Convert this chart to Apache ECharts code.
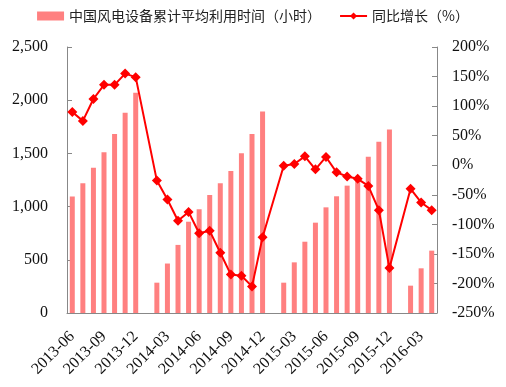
<!DOCTYPE html>
<html><head><meta charset="utf-8">
<script src="https://cdn.jsdelivr.net/npm/echarts@6/dist/echarts.min.js"></script>
<style>html,body{margin:0;padding:0;background:#fff}#c{width:506px;height:387px}</style>
</head><body><div id="c"></div>
<script>
var categories = ['2013-06','2013-07','2013-08','2013-09','2013-10','2013-11','2013-12',
 '2014-01','2014-02','2014-03','2014-04','2014-05','2014-06','2014-07','2014-08','2014-09','2014-10','2014-11','2014-12',
 '2015-01','2015-02','2015-03','2015-04','2015-05','2015-06','2015-07','2015-08','2015-09','2015-10','2015-11','2015-12',
 '2016-01','2016-02','2016-03','2016-04'];
var hours = [1095,1220,1366,1510,1682,1883,2071,
 null,285,465,640,858,975,1109,1219,1335,1501,1682,1893,
 null,285,476,670,849,993,1097,1197,1255,1469,1610,1724,
 null,257,420,586];
var yoy = [90,75,112,136,136,155,149,
 null,-26,-58,-94,-79,-115,-111,-148,-185,-187,-205,-122,
 null,-1,2,15,-7,14,-12,-19,-23,-35,-76,-174,
 null,-40,-63,-76];
var leftTicks = {min:0, max:2500, interval:500};
var rightTicks = {min:-250, max:200, interval:50};
var seriesNames = ['中国风电设备累计平均利用时间（小时）','同比增长（%）'];

var serif = '"Liberation Serif","Times New Roman",serif';
var cjk = '"Noto Sans CJK SC",sans-serif';
var chart = echarts.init(document.getElementById('c'), null, {renderer:'canvas'});
chart.setOption({
  animation:false,
  backgroundColor:'#fff',
  legend:{
    top:4, left:'center', itemGap:18,
    textStyle:{fontFamily:cjk, fontSize:14, color:'#222'},
    data:[
      {name:seriesNames[0], icon:'rect', itemStyle:{color:'#FF8080'}},
      {name:seriesNames[1]}
    ],
    itemWidth:27, itemHeight:9
  },
  grid:{left:67, right:69, top:47, bottom:74, containLabel:false},
  xAxis:{
    type:'category', data:categories, boundaryGap:true,
    axisLine:{lineStyle:{color:'#888'}},
    axisTick:{inside:true, interval:2, length:5, lineStyle:{color:'#888'}},
    axisLabel:{interval:2, rotate:45, fontFamily:serif, fontSize:16, color:'#111', margin:21}
  },
  yAxis:[
    {type:'value', min:leftTicks.min, max:leftTicks.max, interval:leftTicks.interval,
     axisLine:{show:true, lineStyle:{color:'#888'}},
     axisTick:{show:true, inside:true, length:5, lineStyle:{color:'#888'}},
     splitLine:{show:false},
     axisLabel:{fontFamily:serif, fontSize:16, color:'#111', margin:19,
       formatter:function(v){return v.toString().replace(/\B(?=(\d{3})+(?!\d))/g, ',');}}
    },
    {type:'value', min:rightTicks.min, max:rightTicks.max, interval:rightTicks.interval, position:'right',
     axisLine:{show:true, lineStyle:{color:'#888'}},
     axisTick:{show:true, inside:true, length:5, lineStyle:{color:'#888'}},
     splitLine:{show:false},
     axisLabel:{fontFamily:serif, fontSize:16, color:'#111', margin:15, formatter:'{value}%'}
    }
  ],
  series:[
    {name:seriesNames[0], type:'bar', data:hours, yAxisIndex:0, barWidth:5,
     itemStyle:{color:'#FF8080'}},
    {name:seriesNames[1], type:'line', data:yoy, yAxisIndex:1, connectNulls:true,
     symbol:'diamond', symbolSize:10, showAllSymbol:true,
     lineStyle:{color:'#FF0000', width:2}, itemStyle:{color:'#FF0000'}}
  ]
});
</script></body></html>
